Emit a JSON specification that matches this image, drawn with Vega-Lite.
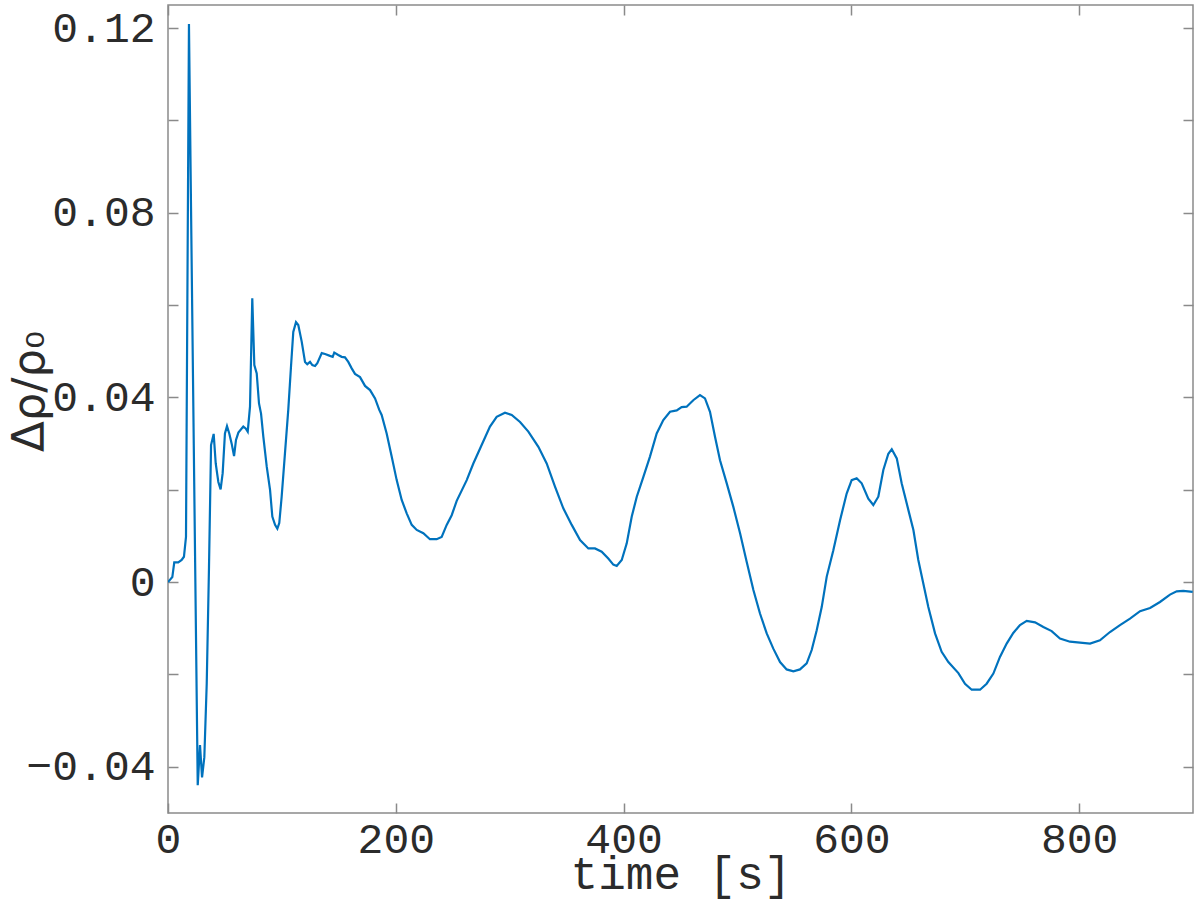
{
  "$schema": "https://vega.github.io/schema/vega-lite/v6.json",
  "width": 1025,
  "height": 808,
  "autosize": "none",
  "padding": {"left": 168, "top": 5, "right": 7, "bottom": 105},
  "background": "white",
  "config": {
    "view": {"stroke": "#8a8a8a", "strokeWidth": 1.5},
    "axis": {
      "grid": false,
      "domain": false,
      "labelFlush": false,
      "labelOverlap": false,
      "tickColor": "#8a8a8a",
      "tickWidth": 1.5,
      "tickSize": -10,
      "labelFont": "Liberation Mono",
      "labelFontSize": 43,
      "labelColor": "#2b2b2b",
      "titleFont": "Liberation Mono",
      "titleFontSize": 46,
      "titleFontWeight": "normal",
      "titleColor": "#2b2b2b"
    }
  },
  "data": {"values": [
    {"t": 0, "v": 0},
    {"t": 3.8, "v": 0.0011},
    {"t": 5.5, "v": 0.0043},
    {"t": 9, "v": 0.0043},
    {"t": 12, "v": 0.0048},
    {"t": 14, "v": 0.0055},
    {"t": 15.8, "v": 0.0098},
    {"t": 18.4, "v": 0.1209},
    {"t": 20.5, "v": 0.075},
    {"t": 26.1, "v": -0.044},
    {"t": 28.1, "v": -0.0353},
    {"t": 29.9, "v": -0.0423},
    {"t": 31.9, "v": -0.0379},
    {"t": 34, "v": -0.022},
    {"t": 36, "v": 0.0033},
    {"t": 37.8, "v": 0.0297},
    {"t": 40.1, "v": 0.0321},
    {"t": 41.9, "v": 0.0257},
    {"t": 44.2, "v": 0.0217},
    {"t": 46.2, "v": 0.0201},
    {"t": 48, "v": 0.0236},
    {"t": 50, "v": 0.0322},
    {"t": 51.8, "v": 0.0338},
    {"t": 53.8, "v": 0.0322},
    {"t": 55.9, "v": 0.03},
    {"t": 58, "v": 0.0273},
    {"t": 59.7, "v": 0.0308},
    {"t": 61.8, "v": 0.0324},
    {"t": 66.1, "v": 0.0337},
    {"t": 68.2, "v": 0.0333},
    {"t": 70, "v": 0.0326},
    {"t": 72, "v": 0.038},
    {"t": 74, "v": 0.0615},
    {"t": 75.8, "v": 0.047},
    {"t": 77.9, "v": 0.0452},
    {"t": 79.9, "v": 0.0387},
    {"t": 81.7, "v": 0.0365},
    {"t": 83.7, "v": 0.0315},
    {"t": 86.7, "v": 0.025},
    {"t": 89.6, "v": 0.02},
    {"t": 91.6, "v": 0.0142},
    {"t": 94, "v": 0.0124},
    {"t": 96, "v": 0.0116},
    {"t": 97.7, "v": 0.0128},
    {"t": 99.8, "v": 0.0185},
    {"t": 102.7, "v": 0.0279},
    {"t": 105.6, "v": 0.0373},
    {"t": 108, "v": 0.0467},
    {"t": 110, "v": 0.0542},
    {"t": 112.4, "v": 0.0563},
    {"t": 114.4, "v": 0.0557},
    {"t": 117.4, "v": 0.0521},
    {"t": 120.3, "v": 0.0477},
    {"t": 122.3, "v": 0.0472},
    {"t": 124.7, "v": 0.0477},
    {"t": 126.7, "v": 0.047},
    {"t": 129.1, "v": 0.0468},
    {"t": 131.1, "v": 0.0474},
    {"t": 135, "v": 0.0496},
    {"t": 137.9, "v": 0.0494},
    {"t": 142.2, "v": 0.049},
    {"t": 144.6, "v": 0.0488},
    {"t": 146, "v": 0.0497},
    {"t": 149.5, "v": 0.0492},
    {"t": 152.5, "v": 0.0488},
    {"t": 155.4, "v": 0.0487},
    {"t": 158.3, "v": 0.0477},
    {"t": 161.3, "v": 0.0463},
    {"t": 164.2, "v": 0.0451},
    {"t": 168.6, "v": 0.0444},
    {"t": 173, "v": 0.0425},
    {"t": 177.4, "v": 0.0416},
    {"t": 181.8, "v": 0.0398},
    {"t": 185.5, "v": 0.0373},
    {"t": 187.6, "v": 0.0362},
    {"t": 192, "v": 0.0322},
    {"t": 196.4, "v": 0.0272},
    {"t": 200.8, "v": 0.0221},
    {"t": 205.2, "v": 0.0178},
    {"t": 209.6, "v": 0.0149},
    {"t": 214, "v": 0.0124},
    {"t": 218.4, "v": 0.0113},
    {"t": 224.2, "v": 0.0106},
    {"t": 230, "v": 0.0093},
    {"t": 235.9, "v": 0.0093},
    {"t": 240.3, "v": 0.0098},
    {"t": 244.7, "v": 0.0124},
    {"t": 249.1, "v": 0.0145},
    {"t": 253.5, "v": 0.0176},
    {"t": 262.3, "v": 0.0221},
    {"t": 268.1, "v": 0.0257},
    {"t": 275.4, "v": 0.0297},
    {"t": 282.7, "v": 0.0337},
    {"t": 288.6, "v": 0.0358},
    {"t": 295.9, "v": 0.0367},
    {"t": 301.8, "v": 0.0362},
    {"t": 309.1, "v": 0.0347},
    {"t": 316.4, "v": 0.0326},
    {"t": 325.2, "v": 0.0293},
    {"t": 332.5, "v": 0.0257},
    {"t": 339.8, "v": 0.0207},
    {"t": 347.1, "v": 0.016},
    {"t": 354.5, "v": 0.0124},
    {"t": 361.8, "v": 0.0091},
    {"t": 369.1, "v": 0.0073},
    {"t": 374.9, "v": 0.0073},
    {"t": 380.8, "v": 0.0066},
    {"t": 386.6, "v": 0.0051},
    {"t": 391, "v": 0.0038},
    {"t": 394, "v": 0.0035},
    {"t": 398.4, "v": 0.0048},
    {"t": 402.8, "v": 0.0084},
    {"t": 407.2, "v": 0.0142},
    {"t": 411.6, "v": 0.0185},
    {"t": 417.4, "v": 0.0228},
    {"t": 423.2, "v": 0.0272},
    {"t": 429.1, "v": 0.0322},
    {"t": 434.9, "v": 0.0351},
    {"t": 440.8, "v": 0.0369},
    {"t": 446.7, "v": 0.0372},
    {"t": 451, "v": 0.0379},
    {"t": 455.4, "v": 0.038},
    {"t": 461.2, "v": 0.0394},
    {"t": 467.1, "v": 0.0405},
    {"t": 471.5, "v": 0.0398},
    {"t": 475.9, "v": 0.0369},
    {"t": 480.3, "v": 0.0315},
    {"t": 484.7, "v": 0.0264},
    {"t": 490.6, "v": 0.0214},
    {"t": 496.4, "v": 0.0163},
    {"t": 502.3, "v": 0.0106},
    {"t": 508.1, "v": 0.0044},
    {"t": 514, "v": -0.0017},
    {"t": 519.8, "v": -0.0068},
    {"t": 525.7, "v": -0.0111},
    {"t": 531.5, "v": -0.0144},
    {"t": 537.4, "v": -0.0173},
    {"t": 543.2, "v": -0.0189},
    {"t": 549.1, "v": -0.0193},
    {"t": 554.9, "v": -0.0189},
    {"t": 560.8, "v": -0.0176},
    {"t": 565.2, "v": -0.0147},
    {"t": 569.6, "v": -0.0104},
    {"t": 574, "v": -0.0054},
    {"t": 578.4, "v": 0.0012},
    {"t": 584.2, "v": 0.0069},
    {"t": 590.1, "v": 0.0134},
    {"t": 595.9, "v": 0.0192},
    {"t": 600.3, "v": 0.0221},
    {"t": 604.7, "v": 0.0225},
    {"t": 609.1, "v": 0.0214},
    {"t": 614.9, "v": 0.0181},
    {"t": 619.3, "v": 0.0167},
    {"t": 623.7, "v": 0.0185},
    {"t": 628.1, "v": 0.0243},
    {"t": 632.5, "v": 0.0278},
    {"t": 635.5, "v": 0.0288},
    {"t": 639.9, "v": 0.0268},
    {"t": 644.2, "v": 0.0214},
    {"t": 650.1, "v": 0.0156},
    {"t": 654.5, "v": 0.0113},
    {"t": 658.8, "v": 0.0048},
    {"t": 663.2, "v": -0.0003},
    {"t": 667.6, "v": -0.0054},
    {"t": 673.5, "v": -0.0111},
    {"t": 679.3, "v": -0.0151},
    {"t": 685.2, "v": -0.0173},
    {"t": 694, "v": -0.0197},
    {"t": 699.8, "v": -0.022},
    {"t": 705.7, "v": -0.0233},
    {"t": 713, "v": -0.0233},
    {"t": 718.8, "v": -0.022},
    {"t": 724.7, "v": -0.0198},
    {"t": 730.5, "v": -0.0162},
    {"t": 736.4, "v": -0.0133},
    {"t": 742.2, "v": -0.011},
    {"t": 748.1, "v": -0.0093},
    {"t": 754, "v": -0.0084},
    {"t": 761.3, "v": -0.0087},
    {"t": 768.6, "v": -0.0097},
    {"t": 775.9, "v": -0.0106},
    {"t": 783.2, "v": -0.0122},
    {"t": 792, "v": -0.0129},
    {"t": 800.8, "v": -0.0131},
    {"t": 809.6, "v": -0.0133},
    {"t": 818.3, "v": -0.0126},
    {"t": 827.1, "v": -0.0108},
    {"t": 835.9, "v": -0.0093},
    {"t": 844.7, "v": -0.0079},
    {"t": 853.5, "v": -0.0063},
    {"t": 862.3, "v": -0.0056},
    {"t": 871, "v": -0.0043},
    {"t": 879.8, "v": -0.0027},
    {"t": 885.7, "v": -0.002},
    {"t": 891.5, "v": -0.0019},
    {"t": 899.7, "v": -0.0021}
  ]},
  "layer": [
    {
      "mark": {"type": "line", "color": "#0072BD", "strokeWidth": 2.2, "clip": true},
      "encoding": {
        "x": {
          "field": "t", "type": "quantitative",
          "scale": {"domain": [0, 900], "nice": false, "zero": false},
          "axis": {"orient": "bottom", "values": [0, 200, 400, 600, 800], "format": "d", "title": "time [s]", "labelPadding": 15, "titlePadding": -9}
        },
        "y": {
          "field": "v", "type": "quantitative",
          "scale": {"domain": [-0.05, 0.125], "nice": false, "zero": false},
          "axis": {
            "orient": "left",
            "values": [-0.04, -0.02, 0, 0.02, 0.04, 0.06, 0.08, 0.1, 0.12],
            "labelExpr": "abs(round(datum.value*100)) % 4 == 0 ? (round(datum.value*100) == 0 ? '0' : format(datum.value, '.2f')) : ''",
            "labelPadding": 23,
            "title": "Δρ/ρ₀",
            "titleFont": "DejaVu Sans",
            "titleFontSize": 45,
            "titleX": -125,
            "titleY": 386,
            "titleAlign": "center",
            "titleBaseline": "alphabetic",
            "titleAngle": 270
          }
        }
      }
    },
    {
      "mark": {"type": "line", "opacity": 0},
      "encoding": {
        "x": {
          "field": "t", "type": "quantitative",
          "axis": {"orient": "top", "values": [0, 200, 400, 600, 800], "labels": false, "title": null}
        },
        "y": {
          "field": "v", "type": "quantitative",
          "axis": {"orient": "right", "values": [-0.04, -0.02, 0, 0.02, 0.04, 0.06, 0.08, 0.1, 0.12], "labels": false, "title": null}
        }
      }
    }
  ],
  "resolve": {"axis": {"x": "independent", "y": "independent"}}
}
